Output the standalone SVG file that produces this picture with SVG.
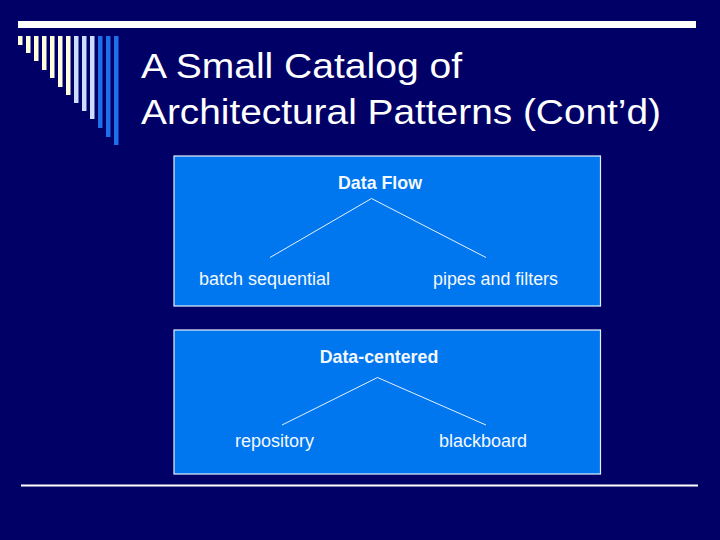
<svg xmlns="http://www.w3.org/2000/svg" width="720" height="540" viewBox="0 0 720 540">
<style>
.title{font-family:"Liberation Sans",Arial,sans-serif;font-size:35px;fill:#FFFFFF}
.box{fill:#0077EE;stroke:#E8F0FF;stroke-width:1.2}
.lbl{font-family:"Liberation Sans",Arial,sans-serif;font-size:17.5px;fill:#F4F8FF}
.hdr{font-family:"Liberation Sans",Arial,sans-serif;font-size:17.8px;font-weight:bold;fill:#F4F8FF}
.edge{stroke:#E8F0FF;stroke-width:1;fill:none}
.c{fill:#FFFFDD}.lb{fill:#CCDDFF}.b{fill:#1E6FE8}
</style>
<rect width="720" height="540" fill="#000066"/>
<rect x="18" y="21" width="678" height="7" fill="#FFFFFF"/>
<g id="bars">
<rect class="c" x="18" y="36" width="4.5" height="9"/>
<rect class="c" x="26" y="36" width="4.5" height="17"/>
<rect class="c" x="34" y="36" width="4.5" height="25"/>
<rect class="c" x="42" y="36" width="4.5" height="34"/>
<rect class="c" x="50" y="36" width="4.5" height="42"/>
<rect class="c" x="58" y="36" width="4.5" height="51"/>
<rect class="c" x="66" y="36" width="4.5" height="59"/>
<rect class="lb" x="74" y="36" width="4.5" height="67"/>
<rect class="lb" x="82" y="36" width="4.5" height="75"/>
<rect class="lb" x="90" y="36" width="4.5" height="83"/>
<rect class="b" x="98" y="36" width="4.5" height="92"/>
<rect class="b" x="106" y="36" width="4.5" height="101"/>
<rect class="b" x="114" y="36" width="4.5" height="109"/>
</g>
<text class="title" x="141" y="78" textLength="321" lengthAdjust="spacingAndGlyphs">A Small Catalog of</text>
<text class="title" x="141" y="124" textLength="520" lengthAdjust="spacingAndGlyphs">Architectural Patterns (Cont’d)</text>
<g id="box-dataflow">
<rect class="box" x="174" y="156" width="426.5" height="150"/>
</g>
<g id="box-datacentered">
<rect class="box" x="174" y="330" width="426.5" height="144"/>
</g>
<g id="connectors">
<polyline class="edge" points="270,257.5 371.5,198.5 486,257.5"/>
<polyline class="edge" points="282,425 377.5,377.5 486,425"/>
</g>
<g id="node-dataflow"><text class="hdr" x="380" y="189" text-anchor="middle">Data Flow</text></g>
<g id="node-batch"><text class="lbl" x="199" y="285" textLength="131" lengthAdjust="spacingAndGlyphs">batch sequential</text></g>
<g id="node-pipes"><text class="lbl" x="433" y="285" textLength="125" lengthAdjust="spacingAndGlyphs">pipes and filters</text></g>
<g id="node-datacentered"><text class="hdr" x="379" y="363" text-anchor="middle">Data-centered</text></g>
<g id="node-repository"><text class="lbl" x="235" y="447" textLength="79" lengthAdjust="spacingAndGlyphs">repository</text></g>
<g id="node-blackboard"><text class="lbl" x="439" y="447" textLength="88" lengthAdjust="spacingAndGlyphs">blackboard</text></g>
<rect x="21" y="484.5" width="677" height="2" fill="#FFFFFF"/>
</svg>
